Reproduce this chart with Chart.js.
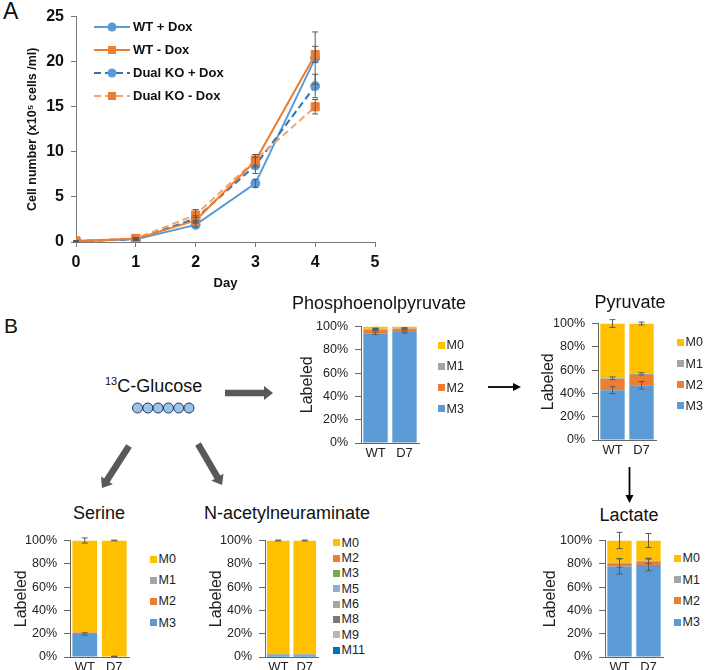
<!DOCTYPE html>
<html>
<head>
<meta charset="utf-8">
<script src="https://cdn.jsdelivr.net/npm/chart.js@4.4.1/dist/chart.umd.min.js"></script>
<style>
  body { margin: 0; background: #fff; font-family: Arial, "Liberation Sans", sans-serif; }
  #page { position: relative; width: 709px; height: 670px; overflow: hidden; }
  .box { position: absolute; }
  .panel { position: absolute; line-height: 1; color: #111; }
  .ttl { position: absolute; font-size: 18px; line-height: 1; color: #111; transform: translateX(-50%); white-space: nowrap; }
  .leg { position: absolute; font-size: 12.5px; line-height: 14px; color: #222; white-space: nowrap; }
  .sq { position: absolute; width: 7px; height: 7px; }
  .lleg { position: absolute; font-size: 13px; font-weight: bold; line-height: 16px; color: #111; white-space: nowrap; }
  #arrows { position: absolute; left: 0; top: 0; }
</style>
</head>
<body>
<div id="page">
  <svg id="arrows" width="709" height="670"></svg>
  <div class="panel" style="left:3px;top:0px;font-size:23px;">A</div>
  <div class="panel" style="left:4px;top:315px;font-size:21px;">B</div>
  <div class="panel" style="left:105px;top:377px;font-size:18px;white-space:nowrap;"><span style="font-size:11px;position:relative;top:-7px;">13</span>C-Glucose</div>
</div>

<script>
// ---- panel A: growth curve ----
const days = [0, 1, 2, 3, 4];
const wtPlusDox = [0.1, 0.3, 1.9, 6.5, 20.4];
const wtMinusDox = [0.1, 0.35, 2.4, 9.0, 20.8];
const dkoPlusDox = [0.1, 0.3, 2.6, 8.5, 17.3];
const dkoMinusDox = [0.1, 0.4, 3.0, 9.1, 15.0];
const wtPlusDoxErr = [0.05, 0.1, 0.25, 0.45, 2.9];
const wtMinusDoxErr = [0.05, 0.1, 0.3, 0.7, 0.9];
const dkoPlusDoxErr = [0.05, 0.1, 0.3, 0.9, 1.3];
const dkoMinusDoxErr = [0.05, 0.1, 0.6, 0.6, 0.8];
const growthTicks = [0, 5, 10, 15, 20, 25];

// ---- panel B: isotopologue fractions (%), stacked bottom -> top ----
const samples = ['WT', 'D7'];
const pctTicks = [0, 20, 40, 60, 80, 100];

const pepM3 = [94.2, 95.2];
const pepM2 = [3.3, 2.8];
const pepM1 = [0.5, 0.4];
const pepM0 = [2.0, 1.6];
const pepM3Err = [1.0, 0.8];
const pepM2Err = [0.8, 0.7];
const pepM1Err = [0.6, 0.5];

const pyrM3 = [42.8, 47.0];
const pyrM2 = [9.6, 8.8];
const pyrM1 = [0.6, 1.0];
const pyrM0 = [47.0, 43.2];
const pyrM3Err = [3.0, 3.2];
const pyrM1Err = [1.2, 1.0];
const pyrM0Err = [3.3, 1.2];

const lacM3 = [77.7, 79.0];
const lacM2 = [2.8, 3.2];
const lacM1 = [0.3, 0.4];
const lacM0 = [19.2, 17.4];
const lacM3Err = [6.5, 5.0];
const lacM1Err = [3.8, 2.2];
const lacM0Err = [7.0, 6.0];

const serM3 = [19.8, 0.5];
const serM2 = [1.3, 0];
const serM1 = [0, 0];
const serM0 = [78.9, 99.5];
const serM3Err = [1.0, 0.2];
const serM0Err = [2.2, 0.3];

const nanaM11 = [1.1, 1.1];
const nanaM9 = [0.2, 0.2];
const nanaM8 = [0.6, 0.6];
const nanaM6 = [0.3, 0.3];
const nanaM5 = [0.2, 0.2];
const nanaM3 = [0.1, 0.1];
const nanaM2 = [0.4, 0.3];
const nanaM0 = [97.1, 97.2];
const nanaM0Err = [0.4, 0.4];

const C = {
  M0: '#FFC000', M1: '#A5A5A5', M2: '#ED7D31', M3: '#5B9BD5',
  nM3: '#70AD47', M5: '#8FAADC', M6: '#A5A5A5', M8: '#7A7A7A', M9: '#B8B8B8', M11: '#0070C0'
};

// error bars drawn from the scales (stacked bars use the cumulative top)
const errorBars = {
  id: 'errorBars',
  afterDatasetsDraw(chart) {
    const ctx = chart.ctx;
    const ys = chart.scales.y;
    ctx.save();
    ctx.strokeStyle = '#5a5a5a';
    ctx.lineWidth = 1;
    chart.data.datasets.forEach((ds, di) => {
      if (!ds.err) return;
      const meta = chart.getDatasetMeta(di);
      meta.data.forEach((el, i) => {
        const e = ds.err[i];
        if (!e) return;
        let v;
        if (chart.config.type === 'bar') {
          v = 0;
          for (let k = 0; k <= di; k++) v += chart.data.datasets[k].data[i];
        } else {
          v = ds.data[i].y;
        }
        const x = el.x;
        const yt = ys.getPixelForValue(v + e);
        const yb = ys.getPixelForValue(v - e);
        ctx.beginPath();
        ctx.moveTo(x, yt); ctx.lineTo(x, yb);
        ctx.moveTo(x - 3, yt); ctx.lineTo(x + 3, yt);
        ctx.moveTo(x - 3, yb); ctx.lineTo(x + 3, yb);
        ctx.stroke();
      });
    });
    ctx.restore();
  }
};

const page = document.getElementById('page');

function addCanvas(left, top, w, h) {
  const div = document.createElement('div');
  div.className = 'box';
  div.style.left = left + 'px';
  div.style.top = top + 'px';
  const cv = document.createElement('canvas');
  cv.width = w; cv.height = h;
  cv.style.width = w + 'px'; cv.style.height = h + 'px';
  div.appendChild(cv);
  page.appendChild(div);
  return cv;
}

function addText(cls, x, y, html, style) {
  const d = document.createElement('div');
  d.className = cls;
  d.style.left = x + 'px';
  d.style.top = y + 'px';
  if (style) d.style.cssText += style;
  d.innerHTML = html;
  page.appendChild(d);
}

// ---- growth chart ----
const lineSeries = [
  { label: 'WT + Dox', data: wtPlusDox, err: wtPlusDoxErr, mark: '#5B9BD5', line: '#5B9BD5', dash: [], pt: 'circle' },
  { label: 'WT - Dox', data: wtMinusDox, err: wtMinusDoxErr, mark: '#ED7D31', line: '#ED7D31', dash: [], pt: 'rect' },
  { label: 'Dual KO + Dox', data: dkoPlusDox, err: dkoPlusDoxErr, mark: '#5B9BD5', line: '#2E75B6', dash: [7, 4], pt: 'circle' },
  { label: 'Dual KO - Dox', data: dkoMinusDox, err: dkoMinusDoxErr, mark: '#ED7D31', line: '#F4A46E', dash: [7, 4], pt: 'rect' }
];

new Chart(addCanvas(0, 0, 390, 300), {
  type: 'line',
  data: {
    datasets: lineSeries.map((s, k) => ({
      label: s.label,
      data: days.map((d, i) => ({ x: d, y: s.data[i] })),
      err: s.err,
      borderColor: s.line,
      borderDash: s.dash,
      borderWidth: 2,
      pointStyle: s.pt,
      pointRadius: s.pt === 'rect' ? 5.7 : 4.5,
      pointBackgroundColor: s.mark,
      pointBorderColor: s.mark,
      pointBorderWidth: 1,
      order: [3, 0, 2, 1][k]
    }))
  },
  options: {
    responsive: false,
    animation: false,
    layout: { autoPadding: false, padding: { left: 0, top: 15, right: 15, bottom: 0 } },
    plugins: { legend: { display: false }, tooltip: { enabled: false } },
    scales: {
      x: {
        type: 'linear', min: 0, max: 5,
        afterFit: (s) => { s.height = 58; },
        ticks: { stepSize: 1, padding: 6, color: '#111', font: { family: 'Arial', size: 16, weight: 'bold' } },
        grid: { drawOnChartArea: false, drawTicks: true, tickLength: 5, color: '#777' },
        border: { color: '#777', width: 1 },
        title: { display: true, text: 'Day', color: '#111', padding: { top: 0, bottom: 9 }, font: { family: 'Arial', size: 13, weight: 'bold' } }
      },
      y: {
        min: 0, max: 25,
        afterFit: (s) => { s.width = 76; },
        afterBuildTicks: (s) => { s.ticks = growthTicks.map(v => ({ value: v })); },
        ticks: { padding: 7, color: '#111', font: { family: 'Arial', size: 16, weight: 'bold' } },
        grid: { drawOnChartArea: false, drawTicks: true, tickLength: 5, color: '#777' },
        border: { color: '#777', width: 1 },
        title: { display: true, text: 'Cell number (x10\u2075 cells /ml)', color: '#111', padding: { top: 25.5, bottom: 0 }, font: { family: 'Arial', size: 12.5, weight: 'bold' } }
      }
    }
  },
  plugins: [errorBars]
});

// growth legend (inside plot, top left)
const legRows = [27, 50, 73, 96];
let svgLeg = '';
lineSeries.forEach((s, k) => {
  const y = legRows[k];
  const dash = s.dash.length ? ` stroke-dasharray="${s.dash.join(',')}"` : '';
  svgLeg += `<line x1="94" y1="${y}" x2="130" y2="${y}" stroke="${s.line}" stroke-width="2"${dash}/>`;
  if (s.pt === 'circle') svgLeg += `<circle cx="112" cy="${y}" r="4.5" fill="${s.mark}"/>`;
  else svgLeg += `<rect x="108" y="${y - 4}" width="8" height="8" fill="${s.mark}"/>`;
  addText('lleg', 133, y - 8, s.label);
});

// ---- stacked isotopologue charts ----
function stackChart(b) {
  const yw = 70;
  const w = yw + b.plotW + 3;
  const h = (b.y0 - b.y100) + 10 + 22;
  const cv = addCanvas(b.axisX - yw, b.y100 - 10, w, h);
  new Chart(cv, {
    type: 'bar',
    data: {
      labels: samples,
      datasets: b.series.map(s => ({
        label: s.label, data: s.data, err: s.err, backgroundColor: s.color,
        borderWidth: 0, barPercentage: b.barPct || 0.84, categoryPercentage: 1
      }))
    },
    options: {
      responsive: false,
      animation: false,
      layout: { autoPadding: false, padding: { left: 0, top: 10, right: 3, bottom: 0 } },
      plugins: { legend: { display: false }, tooltip: { enabled: false } },
      scales: {
        x: {
          stacked: true,
          afterFit: (s) => { s.height = 22; },
          ticks: { padding: 3, color: '#222', font: { family: 'Arial', size: 13 } },
          grid: { display: false, drawTicks: false },
          border: { display: true, color: '#666', width: 1 }
        },
        y: {
          stacked: true, min: 0, max: 100,
          afterFit: (s) => { s.width = yw; },
          afterBuildTicks: (s) => { s.ticks = pctTicks.map(v => ({ value: v })); },
          ticks: { padding: 7, color: '#222', font: { family: 'Arial', size: 12.5 }, callback: (v) => v + '%' },
          grid: { drawOnChartArea: false, drawTicks: true, tickLength: 6, color: '#666' },
          border: { color: '#666', width: 1 },
          title: { display: true, text: 'Labeled', color: '#222', padding: { top: yw - 9.6 - b.titleOff, bottom: 0 }, font: { family: 'Arial', size: 16 } }
        }
      }
    },
    plugins: [errorBars]
  });
  // heading and legend
  addText('ttl', b.tx, b.ty, b.name);
  const legOrder = b.series.slice().reverse();
  legOrder.forEach((s, k) => {
    const ry = b.leg.y + k * b.leg.dy;
    const sq = document.createElement('div');
    sq.className = 'sq';
    sq.style.left = b.leg.x + 'px';
    sq.style.top = (ry - 3.5) + 'px';
    sq.style.background = s.color;
    page.appendChild(sq);
    addText('leg', b.leg.x + 8.5, ry - 7, s.label);
  });
}

stackChart({
  name: 'Phosphoenolpyruvate', axisX: 361, y100: 322, y0: 443, plotW: 58, titleOff: 53,
  tx: 379, ty: 293.5, leg: { x: 438, y: 345, dy: 21.3 },
  series: [
    { label: 'M3', data: pepM3, err: pepM3Err, color: C.M3 },
    { label: 'M2', data: pepM2, err: pepM2Err, color: C.M2 },
    { label: 'M1', data: pepM1, err: pepM1Err, color: C.M1 },
    { label: 'M0', data: pepM0, err: null, color: C.M0 }
  ]
});

stackChart({
  name: 'Pyruvate', axisX: 598, y100: 319, y0: 440, plotW: 58, titleOff: 49,
  tx: 630, ty: 292.5, leg: { x: 677, y: 342.3, dy: 21.2 },
  series: [
    { label: 'M3', data: pyrM3, err: pyrM3Err, color: C.M3 },
    { label: 'M2', data: pyrM2, err: null, color: C.M2 },
    { label: 'M1', data: pyrM1, err: pyrM1Err, color: C.M1 },
    { label: 'M0', data: pyrM0, err: pyrM0Err, color: C.M0 }
  ]
});

stackChart({
  name: 'Lactate', axisX: 605, y100: 536, y0: 657, plotW: 58, titleOff: 54,
  tx: 629, ty: 505.5, leg: { x: 674, y: 558.3, dy: 21.3 },
  series: [
    { label: 'M3', data: lacM3, err: lacM3Err, color: C.M3 },
    { label: 'M2', data: lacM2, err: null, color: C.M2 },
    { label: 'M1', data: lacM1, err: lacM1Err, color: C.M1 },
    { label: 'M0', data: lacM0, err: lacM0Err, color: C.M0 }
  ]
});

stackChart({
  name: 'Serine', axisX: 70, y100: 536, y0: 657, plotW: 59, titleOff: 48,
  tx: 99, ty: 503.5, leg: { x: 150, y: 559, dy: 21.2 },
  series: [
    { label: 'M3', data: serM3, err: serM3Err, color: C.M3 },
    { label: 'M2', data: serM2, err: null, color: C.M2 },
    { label: 'M1', data: serM1, err: null, color: C.M1 },
    { label: 'M0', data: serM0, err: serM0Err, color: C.M0 }
  ]
});

stackChart({
  name: 'N-acetylneuraminate', axisX: 265, y100: 536, y0: 657, plotW: 53, titleOff: 48, barPct: 0.855,
  tx: 287, ty: 503.5, leg: { x: 333, y: 542.7, dy: 15.33 },
  series: [
    { label: 'M11', data: nanaM11, err: null, color: C.M11 },
    { label: 'M9', data: nanaM9, err: null, color: C.M9 },
    { label: 'M8', data: nanaM8, err: null, color: C.M8 },
    { label: 'M6', data: nanaM6, err: null, color: C.M6 },
    { label: 'M5', data: nanaM5, err: null, color: C.M5 },
    { label: 'M3', data: nanaM3, err: null, color: C.nM3 },
    { label: 'M2', data: nanaM2, err: null, color: C.M2 },
    { label: 'M0', data: nanaM0, err: nanaM0Err, color: C.M0 }
  ]
});

// ---- pathway sketch: glucose carbons and arrows ----
function fatArrow(x1, y1, x2, y2) {
  const dx = x2 - x1, dy = y2 - y1, L = Math.hypot(dx, dy);
  const ux = dx / L, uy = dy / L, nx = -uy, ny = ux;
  const bw = 3.3, hw = 7, hl = 9;
  const bx = x2 - ux * hl, by = y2 - uy * hl;
  const p = [
    [x1 + nx * bw, y1 + ny * bw], [bx + nx * bw, by + ny * bw], [bx + nx * hw, by + ny * hw],
    [x2, y2], [bx - nx * hw, by - ny * hw], [bx - nx * bw, by - ny * bw], [x1 - nx * bw, y1 - ny * bw]
  ];
  return `<polygon points="${p.map(q => q[0].toFixed(1) + ',' + q[1].toFixed(1)).join(' ')}" fill="#595959"/>`;
}
function thinArrow(x1, y1, x2, y2) {
  const dx = x2 - x1, dy = y2 - y1, L = Math.hypot(dx, dy);
  const ux = dx / L, uy = dy / L, nx = -uy, ny = ux;
  const hl = 8, hw = 4;
  const bx = x2 - ux * hl, by = y2 - uy * hl;
  return `<line x1="${x1}" y1="${y1}" x2="${bx}" y2="${by}" stroke="#000" stroke-width="1.8"/>` +
    `<polygon points="${x2},${y2} ${bx + nx * hw},${by + ny * hw} ${bx - nx * hw},${by - ny * hw}" fill="#000"/>`;
}

let svg = svgLeg;
for (let i = 0; i < 6; i++) {
  svg += `<circle cx="${137.5 + i * 10.3}" cy="408" r="5" fill="#9DC3E6" stroke="#1F3864" stroke-width="1"/>`;
}
svg += fatArrow(225, 393, 273, 393);
svg += fatArrow(129, 446, 102, 488);
svg += fatArrow(198, 444, 222, 485);
svg += thinArrow(488, 387, 521, 387);
svg += thinArrow(629.5, 467, 629.5, 503);
document.getElementById('arrows').innerHTML = svg;
</script>
</body>
</html>
